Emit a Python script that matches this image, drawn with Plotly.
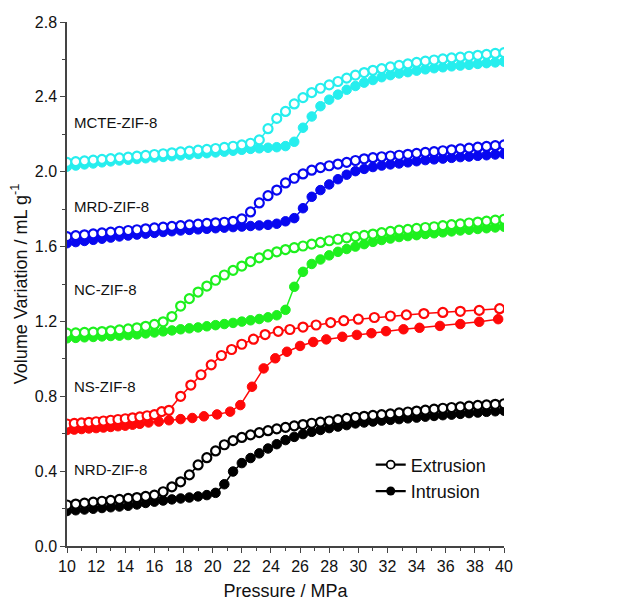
import plotly.graph_objects as go

# ---------------- data ----------------
pressure = [10.0, 10.6, 11.2, 11.8, 12.4, 13.0, 13.6, 14.2, 14.8, 15.4, 16.0, 16.6, 17.2, 17.8,
            18.4, 19.0, 19.6, 20.2, 20.8, 21.4, 22.0, 22.6, 23.2, 23.8, 24.4, 25.0, 25.6, 26.2,
            26.8, 27.4, 28.0, 28.6, 29.2, 29.8, 30.4, 31.0, 31.6, 32.2, 32.8, 33.4, 34.0, 34.6,
            35.2, 35.8, 36.4, 37.0, 37.6, 38.2, 38.8, 39.4, 40.0]

mcte_ext = [2.050, 2.054, 2.058, 2.062, 2.066, 2.070, 2.074, 2.078, 2.083, 2.087, 2.092, 2.096,
            2.101, 2.106, 2.110, 2.115, 2.119, 2.124, 2.130, 2.136, 2.143, 2.152, 2.170, 2.230,
            2.285, 2.322, 2.362, 2.396, 2.423, 2.446, 2.464, 2.482, 2.500, 2.516, 2.530, 2.542,
            2.551, 2.560, 2.568, 2.576, 2.584, 2.591, 2.597, 2.603, 2.608, 2.612, 2.617, 2.622,
            2.627, 2.632, 2.636]
mcte_int = [2.027, 2.033, 2.039, 2.044, 2.050, 2.055, 2.060, 2.064, 2.068, 2.072, 2.076, 2.079,
            2.083, 2.087, 2.091, 2.095, 2.099, 2.103, 2.107, 2.112, 2.117, 2.122, 2.125, 2.128,
            2.131, 2.137, 2.160, 2.235, 2.295, 2.350, 2.385, 2.412, 2.438, 2.458, 2.476, 2.490,
            2.505, 2.516, 2.525, 2.532, 2.540, 2.547, 2.553, 2.558, 2.563, 2.567, 2.571, 2.576,
            2.580, 2.584, 2.588]

mrd_ext = [1.653, 1.658, 1.663, 1.668, 1.673, 1.677, 1.682, 1.686, 1.690, 1.695, 1.700, 1.704,
           1.708, 1.712, 1.716, 1.720, 1.724, 1.727, 1.730, 1.735, 1.748, 1.785, 1.833, 1.872,
           1.902, 1.940, 1.965, 1.988, 2.008, 2.022, 2.032, 2.041, 2.050, 2.060, 2.069, 2.075,
           2.080, 2.084, 2.088, 2.093, 2.098, 2.103, 2.107, 2.112, 2.117, 2.122, 2.126, 2.131,
           2.135, 2.139, 2.143]
mrd_int = [1.618, 1.624, 1.630, 1.636, 1.642, 1.648, 1.654, 1.659, 1.664, 1.669, 1.673, 1.678,
           1.682, 1.686, 1.689, 1.692, 1.695, 1.698, 1.701, 1.704, 1.707, 1.710, 1.713, 1.716,
           1.722, 1.735, 1.752, 1.805, 1.866, 1.902, 1.932, 1.960, 1.984, 2.003, 2.015, 2.025,
           2.033, 2.039, 2.044, 2.050, 2.056, 2.062, 2.066, 2.070, 2.074, 2.078, 2.081, 2.085,
           2.088, 2.092, 2.095]

nc_ext = [1.137, 1.139, 1.141, 1.143, 1.146, 1.150, 1.155, 1.160, 1.166, 1.174, 1.184, 1.198,
          1.226, 1.282, 1.322, 1.357, 1.389, 1.420, 1.448, 1.473, 1.496, 1.520, 1.540, 1.557,
          1.572, 1.584, 1.594, 1.603, 1.613, 1.622, 1.631, 1.639, 1.647, 1.653, 1.660, 1.667,
          1.674, 1.681, 1.688, 1.692, 1.697, 1.702, 1.706, 1.712, 1.717, 1.721, 1.726, 1.731,
          1.736, 1.741, 1.746]
nc_int = [1.110, 1.112, 1.115, 1.117, 1.120, 1.122, 1.124, 1.127, 1.131, 1.136, 1.141, 1.147,
          1.152, 1.158, 1.163, 1.168, 1.174, 1.180, 1.186, 1.192, 1.199, 1.206, 1.213, 1.222,
          1.233, 1.262, 1.385, 1.465, 1.507, 1.531, 1.553, 1.572, 1.587, 1.600, 1.613, 1.625,
          1.635, 1.643, 1.651, 1.656, 1.661, 1.667, 1.671, 1.676, 1.681, 1.686, 1.690, 1.694,
          1.698, 1.702, 1.706]

nrd_ext = [0.219, 0.224, 0.229, 0.234, 0.239, 0.244, 0.249, 0.254, 0.259, 0.265, 0.272, 0.290,
           0.316, 0.343, 0.380, 0.433, 0.472, 0.508, 0.541, 0.563, 0.580, 0.594, 0.606, 0.616,
           0.626, 0.634, 0.642, 0.649, 0.656, 0.662, 0.668, 0.675, 0.682, 0.688, 0.693, 0.698,
           0.702, 0.706, 0.711, 0.716, 0.721, 0.726, 0.731, 0.736, 0.740, 0.743, 0.747, 0.751,
           0.754, 0.757, 0.760]
nrd_int = [0.187, 0.191, 0.195, 0.199, 0.203, 0.207, 0.211, 0.215, 0.222, 0.230, 0.237, 0.243,
           0.249, 0.254, 0.259, 0.265, 0.272, 0.284, 0.330, 0.398, 0.443, 0.470, 0.495, 0.521,
           0.544, 0.566, 0.583, 0.598, 0.610, 0.620, 0.630, 0.638, 0.646, 0.655, 0.660, 0.665,
           0.670, 0.674, 0.678, 0.682, 0.686, 0.691, 0.695, 0.699, 0.702, 0.706, 0.710, 0.713,
           0.717, 0.720, 0.723]

ns_ext_p = [10.0, 10.5, 11.0, 11.5, 12.0, 12.5, 13.0, 13.5, 14.0, 14.5, 15.0, 15.5, 16.0, 16.5,
            17.0, 17.8, 18.5, 19.2, 19.9, 20.6, 21.3, 22.0, 22.8, 23.6, 24.5, 25.3, 26.2, 27.1,
            28.1, 29.0, 30.0, 31.1, 32.2, 33.3, 34.5, 35.8, 37.0, 38.3, 39.7]
ns_ext = [0.652, 0.655, 0.658, 0.661, 0.664, 0.668, 0.672, 0.676, 0.680, 0.685, 0.690, 0.696,
          0.702, 0.718, 0.725, 0.800, 0.860, 0.915, 0.968, 1.018, 1.050, 1.078, 1.105, 1.130,
          1.147, 1.157, 1.170, 1.181, 1.194, 1.204, 1.212, 1.221, 1.229, 1.235, 1.242, 1.248,
          1.254, 1.259, 1.268]
ns_int_p = [10.0, 10.5, 11.0, 11.5, 12.0, 12.5, 13.0, 13.5, 14.0, 14.5, 15.0, 15.6, 16.3, 17.0,
            17.8, 18.6, 19.4, 20.3, 21.2, 21.9, 22.7, 23.5, 24.3, 25.1, 26.0, 26.9, 27.8, 28.9,
            29.9, 30.9, 31.9, 33.1, 34.2, 35.6, 37.0, 38.3, 39.6]
ns_int = [0.620, 0.622, 0.625, 0.628, 0.630, 0.633, 0.636, 0.640, 0.643, 0.648, 0.653, 0.660,
          0.665, 0.672, 0.678, 0.684, 0.693, 0.703, 0.718, 0.753, 0.851, 0.949, 1.003, 1.038,
          1.069, 1.090, 1.104, 1.118, 1.128, 1.137, 1.148, 1.158, 1.166, 1.176, 1.186, 1.198,
          1.212]

sample_names = ["MCTE-ZIF-8", "MRD-ZIF-8", "NC-ZIF-8", "NS-ZIF-8", "NRD-ZIF-8"]
curve_letters = ["e)", "d)", "c)", "b)", "a)"]
x_ticks = [10, 12, 14, 16, 18, 20, 22, 24, 26, 28, 30, 32, 34, 36, 38, 40]
y_ticks = [0.0, 0.4, 0.8, 1.2, 1.6, 2.0, 2.4, 2.8]

# ---------------- figure ----------------
FONT = "Arial, Liberation Sans, sans-serif"
fig = go.Figure()

series = [
    (pressure, mcte_ext, pressure, mcte_int, "#26EEEE"),
    (pressure, mrd_ext, pressure, mrd_int, "#0808F0"),
    (pressure, nc_ext, pressure, nc_int, "#1EF01E"),
    (ns_ext_p, ns_ext, ns_int_p, ns_int, "#FF0808"),
    (pressure, nrd_ext, pressure, nrd_int, "#000000"),
]

for xe, ye, xi, yi, col in series:
    fig.add_trace(go.Scatter(x=xi, y=yi, mode="lines+markers", showlegend=False,
                             line=dict(color=col, width=1.5),
                             marker=dict(symbol="circle", size=9.5, color=col,
                                         line=dict(color=col, width=1))))
    fig.add_trace(go.Scatter(x=xe, y=ye, mode="lines+markers", showlegend=False,
                             line=dict(color=col, width=1.5),
                             marker=dict(symbol="circle", size=9, color="white",
                                         line=dict(color=col, width=2.2))))

# legend entries
fig.add_trace(go.Scatter(x=[None], y=[None], mode="lines+markers", name="Extrusion",
                         line=dict(color="black", width=2.2),
                         marker=dict(symbol="circle", size=8, color="white",
                                     line=dict(color="black", width=1.8))))
fig.add_trace(go.Scatter(x=[None], y=[None], mode="lines+markers", name="Intrusion",
                         line=dict(color="black", width=2.2),
                         marker=dict(symbol="circle", size=9, color="black")))

# sample labels
label_y = [2.262, 1.813, 1.368, 0.851, 0.408]
letter_y = [2.633, 2.152, 1.738, 1.252, 0.763]
for name, ly in zip(sample_names, label_y):
    fig.add_annotation(x=10.35, y=ly, xref="x", yref="y", text=name, showarrow=False,
                       xanchor="left", yanchor="middle",
                       font=dict(family=FONT, size=15, color="#111"))
for letter, ly in zip(curve_letters, letter_y):
    fig.add_annotation(x=40.15, y=ly, xref="x", yref="y", text=letter, showarrow=False,
                       xanchor="left", yanchor="middle",
                       font=dict(family=FONT, size=17, color="#111"))

# the page body adds an 8px offset, so the figure is 8px smaller on each side
fig.update_layout(
    width=612, height=594,
    margin=dict(l=59, r=116, t=14, b=56),
    paper_bgcolor="white", plot_bgcolor="white",
    font=dict(family=FONT, size=16, color="#111"),
    legend=dict(x=0.695, y=0.19, xanchor="left", yanchor="top",
                bgcolor="rgba(0,0,0,0)", font=dict(size=18), tracegroupgap=0),
)
fig.update_xaxes(range=[10, 40], tickvals=x_ticks, ticks="outside", ticklen=5,
                 tickwidth=1.2, tickcolor="#444", showline=True, linecolor="#444",
                 linewidth=1.5, showgrid=False, zeroline=False, automargin=False,
                 minor=dict(dtick=1, ticks="outside", ticklen=3, tickcolor="#444"),
                 title=dict(text="Pressure / MPa", font=dict(size=18), standoff=10),
                 tickfont=dict(size=16))
fig.update_yaxes(range=[0, 2.8], tickvals=y_ticks, tickformat=".1f", ticks="outside",
                 ticklen=5, tickwidth=1.2, tickcolor="#444", showline=True,
                 linecolor="#444", linewidth=1.5, showgrid=False, zeroline=False,
                 automargin=False,
                 minor=dict(dtick=0.2, ticks="outside", ticklen=3, tickcolor="#444"),
                 title=dict(text="Volume Variation / mL g<sup>-1</sup>", font=dict(size=18),
                            standoff=4),
                 tickfont=dict(size=16))

fig.write_html("out.html")
